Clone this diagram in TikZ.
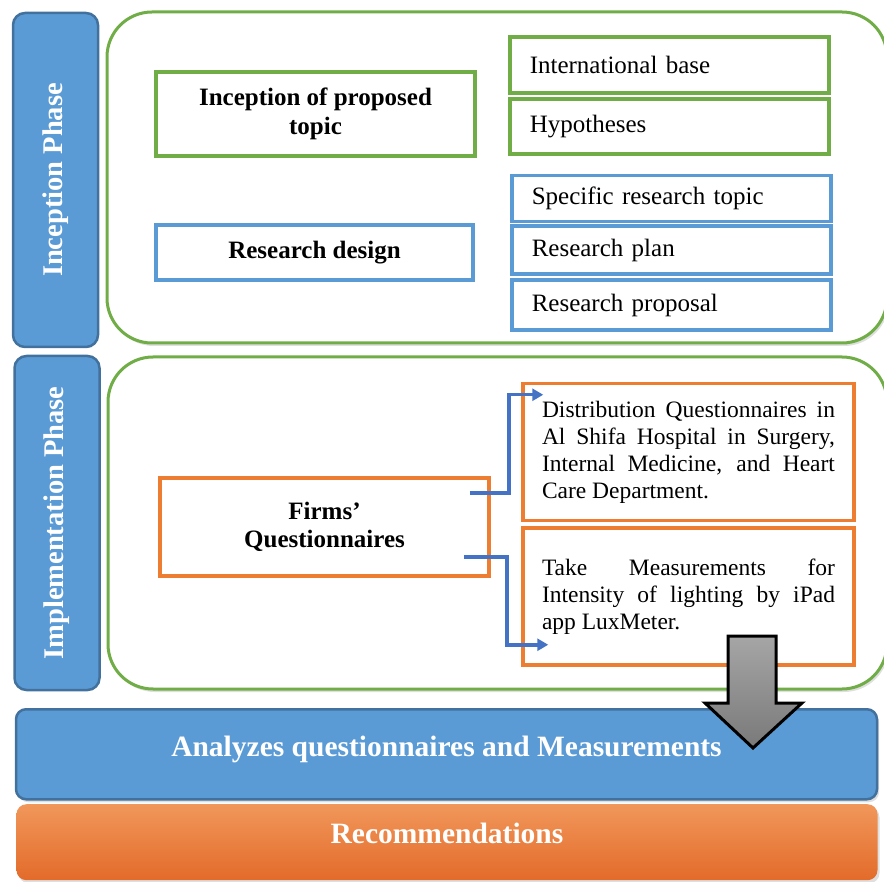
\documentclass[tikz,border=0pt]{standalone}
\usepackage{fontspec}
\setmainfont{Liberation Serif}
\usetikzlibrary{arrows.meta,shadows}

\definecolor{phaseblue}{HTML}{5B9BD5}
\definecolor{phaseedge}{HTML}{41719C}
\definecolor{framegreen}{HTML}{70AD47}
\definecolor{boxorange}{HTML}{ED7D31}
\definecolor{arrowblue}{HTML}{4472C4}

\hyphenpenalty=10000
\tolerance=10000

\begin{document}
\begin{tikzpicture}[x=1pt,y=-1pt,
  phase/.style={draw=phaseedge, fill=phaseblue, line width=2.5pt, rounded corners=12pt, rotate=90,
    minimum width=334pt, minimum height=85pt, text=white, font=\fontsize{28.5}{32}\selectfont\bfseries},
  frame/.style={draw=framegreen, line width=3pt, rounded corners=45pt, fill=white,
    drop shadow={opacity=0.25,shadow xshift=2pt,shadow yshift=-3pt}},
  mainbox/.style={draw, line width=3.5pt, align=center, font=\fontsize{25}{28.5}\selectfont\bfseries},
  itembox/.style={draw, line width=3.5pt, anchor=west, text width=279pt, inner xsep=20pt,
    align=left, font=\fontsize{25}{28}\selectfont},
  notebox/.style={draw=boxorange, line width=3.5pt, text width=293pt, inner xsep=19pt,
    align=justify, minimum height=137pt, font=\fontsize{23.5}{27}\selectfont},
  link/.style={arrowblue, line width=3.5pt, -{Triangle[length=11pt,width=12pt]}},
  bar/.style={anchor=north, minimum width=861pt, inner ysep=0pt, rounded corners=10pt, text=white,
    font=\fontsize{29.5}{32}\selectfont\bfseries,
    drop shadow={opacity=0.25,shadow xshift=2pt,shadow yshift=-3pt}},
]
\useasboundingbox (0,0) rectangle (884,882);

% phase frames
\draw[frame] (107,12) rectangle (887,343);
\draw[frame] (108,357) rectangle (887,689);

% inception phase
\node[mainbox, draw=framegreen, minimum width=319pt, minimum height=84pt] (topic) at (315.5,114) {Inception of proposed\\topic};
\node[itembox, draw=framegreen, minimum height=56pt] (base) at (508,65) {International base};
\node[itembox, draw=framegreen, minimum height=55pt] (hypo) at (508,126.5) {Hypotheses};

\node[mainbox, draw=phaseblue, minimum width=317pt, minimum height=55pt] (design) at (314.5,252.5) {Research design};
\node[itembox, draw=phaseblue, minimum height=46pt] (specific) at (510,198.5) {Specific research topic};
\node[itembox, draw=phaseblue, minimum height=48pt] (plan) at (510,250) {Research plan};
\node[itembox, draw=phaseblue, minimum height=50pt] (proposal) at (510,305) {Research proposal};

% implementation phase
\node[mainbox, draw=boxorange, minimum width=329pt, minimum height=98pt] (firms) at (324.5,527) {Firms’\\Questionnaires};
\node[notebox] (distrib) at (688.5,452) {Distribution Questionnaires in Al Shifa Hospital in Surgery, Internal Medicine, and Heart Care Department.};
\node[notebox] (take) at (688.5,596.5) {Take Measurements for Intensity of lighting by iPad app LuxMeter.};

\draw[link] ([xshift=-21pt,yshift=34pt]firms.east) -- ++(39,0) |- ([xshift=22pt,yshift=-13pt]distrib.north west);
\draw[link] ([xshift=-27pt,yshift=-30pt]firms.east) -- ++(43,0) |- ([xshift=27pt,yshift=22pt]take.south west);

% side labels
\node[phase] (inception) at (55.5,180) {Inception Phase};
\node[phase] (implement) at (57,523) {Implementation Phase};

% bottom bars
\node[bar, draw=phaseedge, fill=phaseblue, line width=2.5pt, text height=47pt, text depth=43pt] (analyze) at (446.5,708) {Analyzes questionnaires and Measurements};
\node[bar, top color=boxorange!80!white, bottom color=boxorange!90!red!95!black, text height=39pt, text depth=37pt] (recommend) at (447,804) {Recommendations};

% big arrow
\draw[line width=3pt, top color=gray!70, bottom color=gray!95!black, line join=miter]
  (728,636) -- (776,636) -- (776,703) -- (802,703) -- (753,748) -- (705,703) -- (728,703) -- cycle;

\end{tikzpicture}
\end{document}
